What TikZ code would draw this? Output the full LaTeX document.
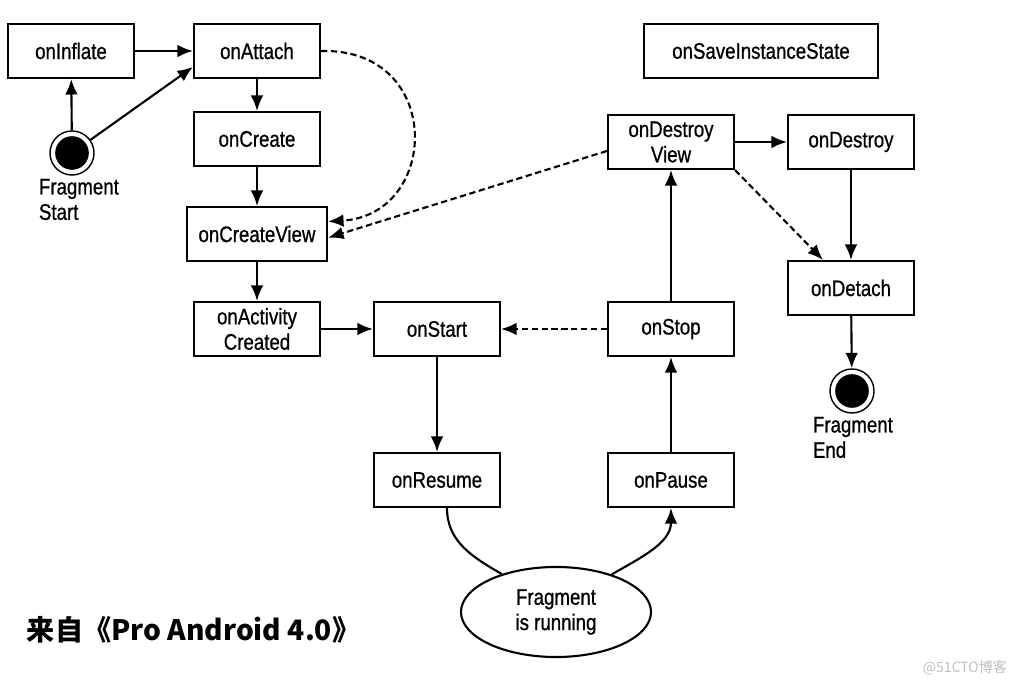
\documentclass[tikz,border=0pt]{standalone}
\usepackage{fontspec}
\setmainfont{Liberation Sans}[FakeStretch=0.83, FakeBold=0.8]
\newfontfamily\cjkfont{Noto Sans CJK SC}
\usetikzlibrary{shapes.geometric, arrows.meta}
\tikzset{
  box/.style={draw, line width=1.5pt, minimum width=3.15cm, minimum height=1.35cm, align=center, inner sep=1pt},
  endpoint/.style={circle, draw, line width=1pt, minimum size=1.1cm, inner sep=0pt,
    path picture={\fill (path picture bounding box.center) circle (0.42cm);}},
  flow/.style={line width=1.5pt, -{Latex[length=11pt, width=9pt]}},
  back/.style={flow, dash pattern=on 4.5pt off 2.5pt},
}
\begin{document}
\begin{tikzpicture}[x=0.025cm, y=-0.025cm, font=\fontsize{16}{18}\selectfont]
            \useasboundingbox (0,0) rectangle (1019,688);
            \node[box] at (71,51) (inflate) {onInflate};
            \node[box] at (257,51) (attach) {onAttach};
            \node[box] at (257,139) (create) {onCreate};
            \node[box, minimum width=3.5cm] at (257,234) (createview) {onCreateView};
            \node[box] at (257,329) (activity) {onActivity\\Created};
            \node[box] at (437,329) (start) {onStart};
            \node[box] at (437,480) (resume) {onResume};
            \node[box] at (671,480) (pause) {onPause};
            \node[box] at (671,329) (stop) {onStop};
            \node[box] at (671,142) (destroyview) {onDestroy\\View};
            \node[box] at (851,142) (destroy) {onDestroy};
            \node[box] at (851,288) (detach) {onDetach};
            \node[box, minimum width=5.85cm] at (761,51) (save) {onSaveInstanceState};
            \node[ellipse, draw, line width=1.5pt, minimum width=4.75cm, minimum height=2.25cm, align=center] at (556,612) (running) {Fragment\\is running};
            \node[endpoint] at (72,153) (fstart) {};
            \node[anchor=north west, align=left] at (34,174) (fstartlbl) {Fragment\\Start};
            \node[endpoint] at (852,391) (fend) {};
            \node[anchor=north west, align=left] at (808,412) (fendlbl) {Fragment\\End};
            \node[anchor=west, font=\cjkfont\bfseries\fontsize{20}{24}\selectfont] at (22,630) (source) {来自《Pro Android 4.0》};
            \node[anchor=east, text=black!25, font=\cjkfont\fontsize{10}{12}\selectfont] at (1012,668) (mark) {@51CTO博客};
            \draw[flow] (fstart) -- (inflate);
            \draw[flow] (fstart) -- (attach.-166);
            \draw[flow] (inflate) -- (attach);
            \draw[flow] (attach) -- (create);
            \draw[flow] (create) -- (createview);
            \draw[back] (attach.east) .. controls (445,48) and (440,215) .. (createview.10);
            \draw[back] (destroyview.-172) -- (createview.-3);
            \draw[flow] (createview) -- (activity);
            \draw[flow] (activity) -- (start);
            \draw[back] (stop) -- (start);
            \draw[flow] (start) -- (resume);
            \draw[line width=1.5pt] ([xshift=0.25cm]resume.south) to[out=-90, in=150] (running.145);
            \draw[flow] (running.34) to[out=30, in=-90] (pause.south);
            \draw[flow] (pause) -- (stop);
            \draw[flow] (stop) -- (destroyview);
            \draw[flow] (destroyview) -- (destroy);
            \draw[back] (destroyview.south east) -- ([xshift=-0.7cm]detach.north);
            \draw[flow] (destroy) -- (detach);
            \draw[flow] (detach) -- (fend);
        \end{tikzpicture}
\end{document}
